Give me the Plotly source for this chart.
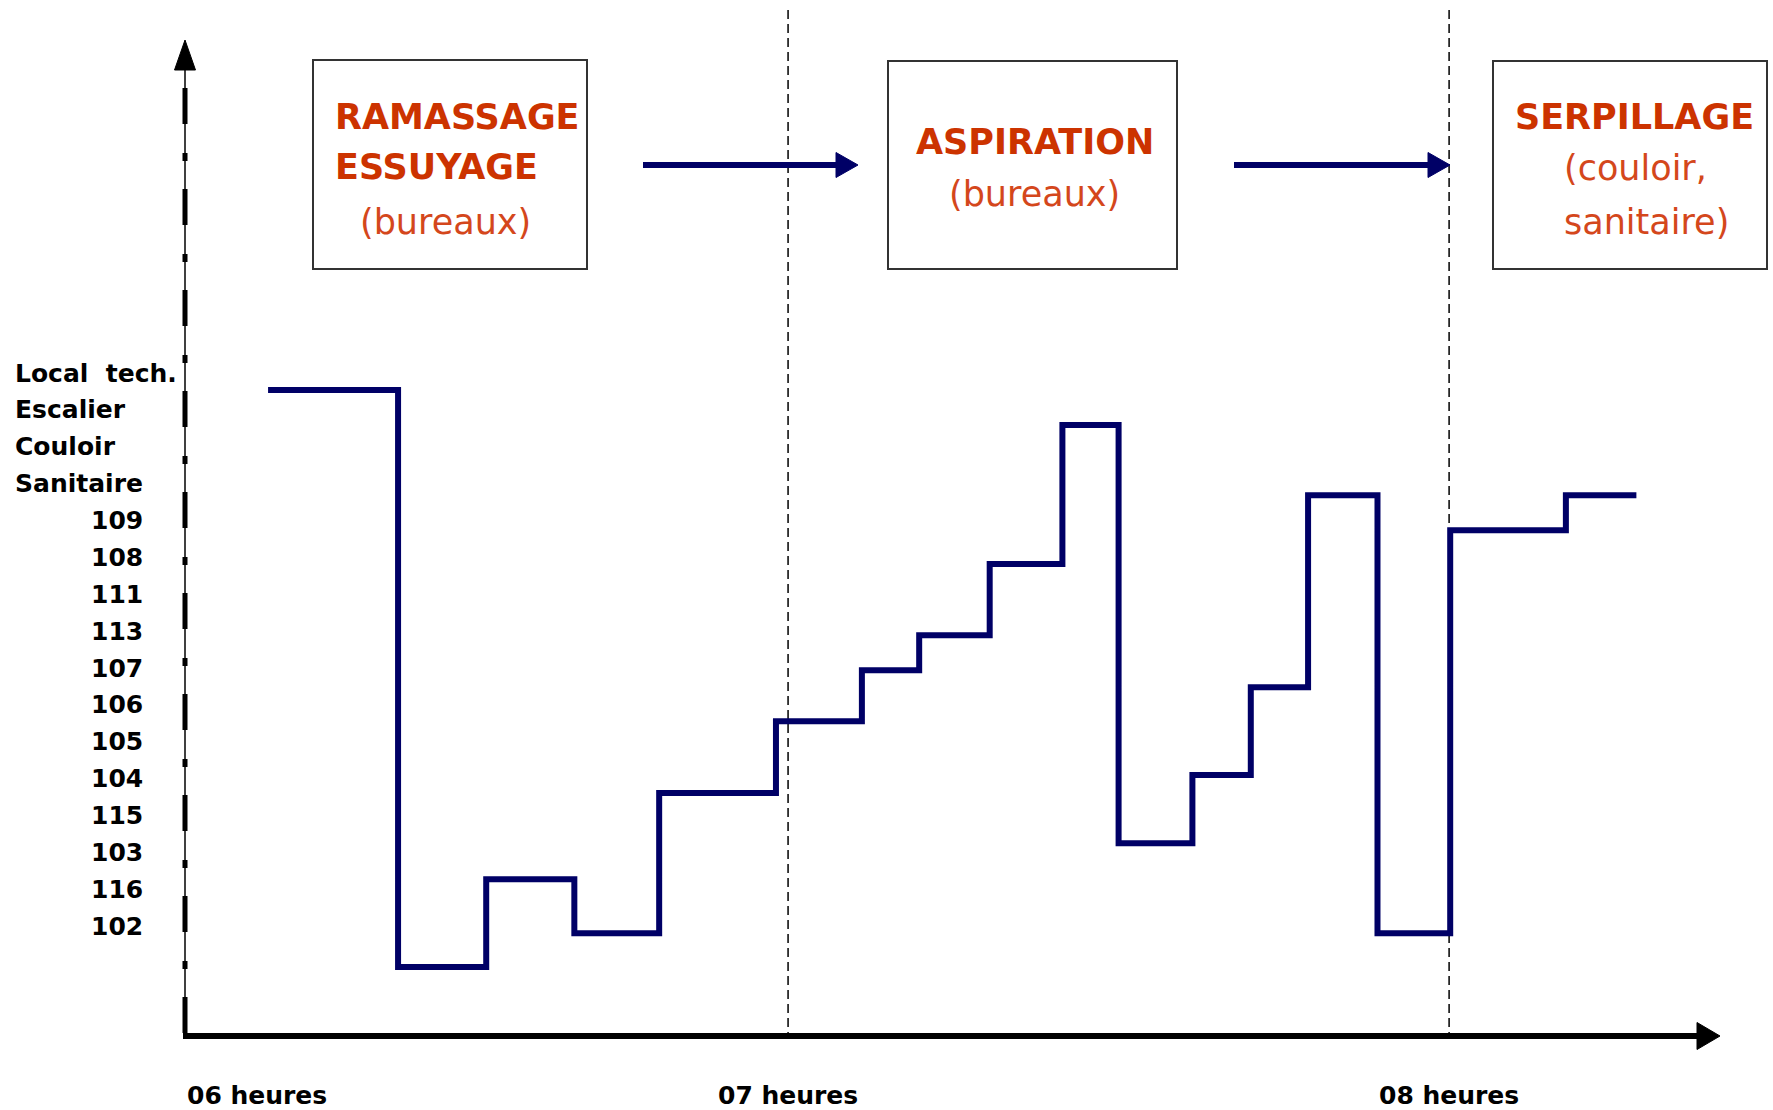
import plotly.graph_objects as go

# ---------------- data ----------------
level_labels = ["102", "116", "103", "115", "104", "105", "106", "107",
                "113", "111", "108", "109", "Sanitaire", "Couloir",
                "Escalier", "Local\u00a0 tech."]
level_pos = list(range(len(level_labels)))

# start time (minutes after 06:00) and level of each step
step_start_min = [12.8, 24.6, 32.6, 40.6, 48.3, 58.9, 66.7, 71.9, 78.3,
                  84.9, 90.0, 96.7, 102.0, 107.2, 113.5, 120.1, 130.6]
step_level = [14.54, -1.11, 1.27, -0.19, 3.61, 5.56, 6.94, 7.89, 9.82,
              13.59, 2.25, 4.10, 6.48, 11.69, -0.19, 10.74, 11.69]
end_min = 137.0

hour_ticks = [0, 60, 120]
hour_labels = ["06 heures", "07 heures", "08 heures"]
hour_marks = [60, 120]

phase_titles = [["RAMASSAGE", "ESSUYAGE"], ["ASPIRATION"], ["SERPILLAGE"]]
phase_notes = [["(bureaux)"], ["(bureaux)"], ["(couloir,", "sanitaire)"]]

# ---------------- layout geometry (pixels) ----------------
W, H = 1773, 1110
L, B = 185, 74
PW, PH = W - L, H - B
X_RANGE = [5.26, 149.4]
Y_RANGE = [-2.98, 25.12]


def px(x):
    return (x - L) / PW


def py(y):
    return (PH - y) / PH


NAVY = "#000066"
RED = "#CC3300"
RED2 = "#D4471C"
FONT = "DejaVu Sans"

xs = step_start_min + [end_min]
ys = step_level + [step_level[-1]]

fig = go.Figure()
fig.add_trace(go.Scatter(x=xs, y=ys, mode="lines", line_shape="hv",
                         line=dict(color=NAVY, width=6), hoverinfo="skip",
                         showlegend=False))

shapes = []
# vertical hour marks
for m in hour_marks:
    shapes.append(dict(type="line", xref="x", yref="paper", x0=m, x1=m,
                       y0=py(10), y1=0, layer="below",
                       line=dict(color="black", width=1.5, dash="9px,5px")))
# y axis
shapes.append(dict(type="line", xref="paper", yref="paper", x0=0, x1=0,
                   y0=py(62), y1=0, line=dict(color="black", width=1.5)))
shapes.append(dict(type="line", xref="paper", yref="paper", x0=0, x1=0,
                   y0=py(88), y1=0,
                   line=dict(color="black", width=5, dash="36px,29px,8px,28px")))
shapes.append(dict(type="path", xref="paper", yref="paper",
                   path=f"M {px(185)} {py(40)} L {px(174.5)} {py(70)} L {px(195.5)} {py(70)} Z",
                   fillcolor="black", line=dict(color="black", width=1)))
# x axis
shapes.append(dict(type="line", xref="paper", yref="paper", x0=px(183), x1=px(1700),
                   y0=py(1036), y1=py(1036), line=dict(color="black", width=6)))
shapes.append(dict(type="path", xref="paper", yref="paper",
                   path=f"M {px(1720)} {py(1036)} L {px(1697)} {py(1022.5)} L {px(1697)} {py(1049.5)} Z",
                   fillcolor="black", line=dict(color="black", width=1)))
# boxes
boxes = [(313, 60, 587, 269), (888, 61, 1177, 269), (1493, 61, 1767, 269)]
for (x0, y0, x1, y1) in boxes:
    shapes.append(dict(type="rect", xref="paper", yref="paper",
                       x0=px(x0), x1=px(x1), y0=py(y0), y1=py(y1),
                       line=dict(color="#333333", width=2), fillcolor="white"))
# arrows between boxes
for (a0, a1) in [(643, 858), (1234, 1450)]:
    shapes.append(dict(type="line", xref="paper", yref="paper", x0=px(a0), x1=px(a1 - 18),
                       y0=py(165), y1=py(165), line=dict(color=NAVY, width=6)))
    shapes.append(dict(type="path", xref="paper", yref="paper",
                       path=f"M {px(a1)} {py(165)} L {px(a1 - 22)} {py(152.5)} L {px(a1 - 22)} {py(177.5)} Z",
                       fillcolor=NAVY, line=dict(color=NAVY, width=1)))

annotations = []
# level labels
for lab, k in zip(level_labels, level_pos):
    numeric = lab.isdigit()
    annotations.append(dict(text=lab, xref="paper", yref="y", x=0, y=k,
                            xanchor="right" if numeric else "left",
                            xshift=(145 - L) if numeric else (13 - L),
                            yanchor="middle", showarrow=False,
                            font=dict(family=FONT, size=25, color="black", weight="bold")))
# hour labels
for t, lab in zip(hour_ticks, hour_labels):
    if t < X_RANGE[0]:
        annotations.append(dict(text=lab, xref="paper", yref="paper", x=0, y=py(1095),
                                xanchor="left", yanchor="middle", showarrow=False,
                                font=dict(family=FONT, size=25, color="black", weight="bold")))
    else:
        annotations.append(dict(text=lab, xref="x", yref="paper", x=t, y=py(1095),
                                xanchor="center", yanchor="middle", showarrow=False,
                                font=dict(family=FONT, size=25, color="black", weight="bold")))

# box texts: (x pixel, anchor, y centres)
title_pos = [[(333, "left", 117), (333, "left", 167)],
             [(1035, "center", 142)],
             [(1513, "left", 117)]]
note_pos = [[(358, "left", 222)],
            [(1034, "center", 194)],
            [(1562, "left", 168), (1562, "left", 222)]]
for titles, notes, tp, npos in zip(phase_titles, phase_notes, title_pos, note_pos):
    for txt, (x, anc, y) in zip(titles, tp):
        annotations.append(dict(text=txt, xref="paper", yref="paper", x=px(x), y=py(y),
                                xanchor=anc, yanchor="middle", showarrow=False,
                                font=dict(family=FONT, size=35, color=RED, weight="bold")))
    for txt, (x, anc, y) in zip(notes, npos):
        annotations.append(dict(text=txt, xref="paper", yref="paper", x=px(x), y=py(y),
                                xanchor=anc, yanchor="middle", showarrow=False,
                                font=dict(family=FONT, size=35, color=RED2)))

fig.update_layout(
    width=W, height=H, autosize=False,
    margin=dict(l=L, r=0, t=0, b=B, pad=0),
    paper_bgcolor="white", plot_bgcolor="white",
    xaxis=dict(range=X_RANGE, visible=False, fixedrange=True),
    yaxis=dict(range=Y_RANGE, visible=False, fixedrange=True),
    shapes=shapes, annotations=annotations, showlegend=False,
)

fig.write_html("out.html", config={"displayModeBar": False},
               post_script="document.body.style.margin='0';document.body.style.overflow='hidden';")
